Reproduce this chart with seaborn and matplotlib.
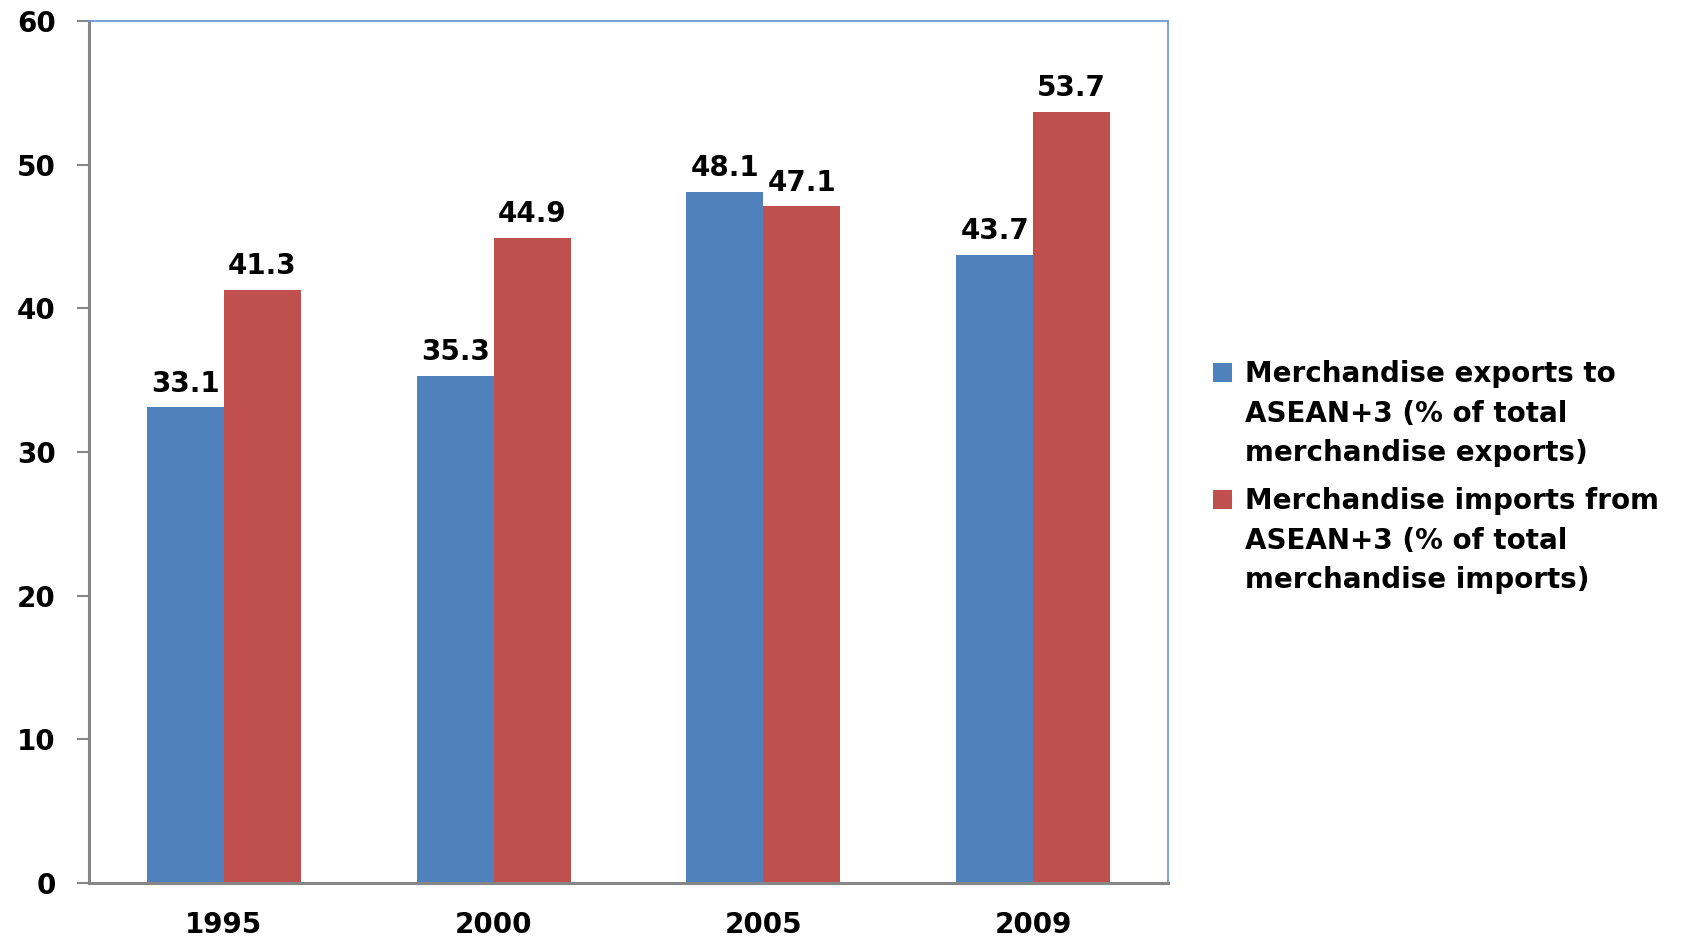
import matplotlib
matplotlib.use("Agg")
import matplotlib.pyplot as plt
import seaborn as sns
import pandas as pd
from matplotlib.patches import Patch

years = ["1995", "2000", "2005", "2009"]
exports = [33.1, 35.3, 48.1, 43.7]
imports = [41.3, 44.9, 47.1, 53.7]
series_names = [
    "Merchandise exports to\nASEAN+3 (% of total\nmerchandise exports)",
    "Merchandise imports from\nASEAN+3 (% of total\nmerchandise imports)",
]
colors = ["#4F81BD", "#C0504D"]
yticks = [0, 10, 20, 30, 40, 50, 60]

sns.set_style("white")
plt.rcParams["font.family"] = ["DejaVu Sans"]
plt.rcParams["font.weight"] = "bold"
plt.rcParams["text.color"] = "black"
plt.rcParams["xtick.labelcolor"] = "black"
plt.rcParams["ytick.labelcolor"] = "black"

FS = 20

df = pd.DataFrame({
    "year": years * 2,
    "value": exports + imports,
    "series": [series_names[0]] * 4 + [series_names[1]] * 4,
})

fig = plt.figure(figsize=(16.84, 9.40), dpi=100)
ax = fig.add_axes([89 / 1684, 1 - 883 / 940, (1168 - 89) / 1684, (883 - 21) / 940])

sns.barplot(data=df, x="year", y="value", hue="series", palette=colors,
            width=0.57, gap=0, saturation=1, ax=ax, legend=False, errorbar=None)

for cont in ax.containers:
    for bar in cont:
        bar.set_edgecolor("none")
        h = bar.get_height()
        ax.annotate(f"{h:.1f}", (bar.get_x() + bar.get_width() / 2, h),
                    xytext=(0, 7), textcoords="offset points",
                    ha="center", va="bottom", fontsize=FS, fontweight="bold", color="black")

ax.set_ylim(0, 60)
ax.set_xlim(-0.5, 3.5)
ax.set_yticks(yticks)
ax.set_yticklabels([str(t) for t in yticks], fontsize=FS, fontweight="bold")
ax.set_xticklabels(years, fontsize=FS, fontweight="bold")
ax.set_xticks([-0.5, 0.5, 1.5, 2.5, 3.5], minor=True)
ax.tick_params(axis="x", which="major", length=0, pad=20)
ax.tick_params(axis="x", which="minor", length=7, width=1.5, color="#868686", direction="out")
ax.tick_params(axis="y", length=9, width=1.5, color="#868686", direction="out", pad=15, left=True)
ax.set_xlabel("")
ax.set_ylabel("")

for s in ["left", "bottom"]:
    ax.spines[s].set_color("#868686")
    ax.spines[s].set_linewidth(2.2)
for s in ["top", "right"]:
    ax.spines[s].set_color("#6F9AD3")
    ax.spines[s].set_linewidth(1.3)
    ax.spines[s].set_visible(True)

def make_legend(name, color, y):
    lines = name.split("\n")
    handles = [Patch(facecolor=color, edgecolor="none")] + \
              [Patch(facecolor="none", edgecolor="none") for _ in lines[1:]]
    leg = fig.legend(handles, lines, loc="upper left", bbox_to_anchor=(1213 / 1684, y),
                     frameon=False, handlelength=0.7, handleheight=0.65,
                     handletextpad=0.45, labelspacing=0.42, borderpad=0, borderaxespad=0,
                     prop={"weight": "bold", "size": FS})
    return leg

make_legend(series_names[0], colors[0], 1 - 360 / 940)
make_legend(series_names[1], colors[1], 1 - 487 / 940)

fig.savefig("out.png", dpi=100, facecolor="white")
